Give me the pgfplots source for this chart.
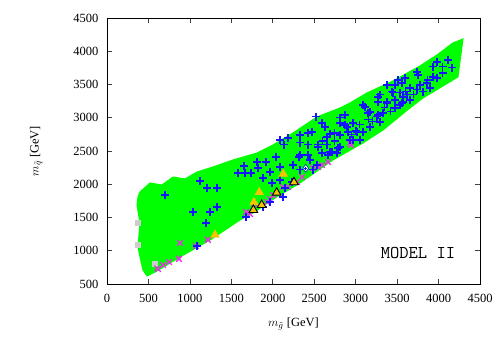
\documentclass[border=0pt]{standalone}
\usepackage{fontspec}
\setmainfont{Liberation Serif}
\usepackage{pgfplots}
\pgfplotsset{compat=1.18}
\definecolor{ptgreen}{RGB}{0,255,0}
\definecolor{ptblue}{RGB}{20,20,255}
\definecolor{ptmag}{RGB}{240,40,240}
\definecolor{ptgold}{RGB}{245,195,0}
\definecolor{ptgray}{RGB}{205,205,205}

\begin{document}
\begin{tikzpicture}
\begin{axis}[
  scale only axis, width=373pt, height=266pt,
  xmin=0, xmax=4500, ymin=500, ymax=4500,
  xtick={0,500,...,4500}, ytick={500,1000,...,4500},
  tick align=inside, major tick length=5pt,
  tick style={black!75, line width=0.6pt},
  axis line style={line width=0.8pt},
  /pgf/number format/assume math mode=true,
  /pgf/number format/1000 sep={},
  ticklabel style={font=\fontsize{12.5}{12.5}\selectfont},
  xticklabel style={yshift=-7pt},
  yticklabel style={xshift=-5pt},
  label style={font=\fontsize{12.5}{12.5}\selectfont},
  xlabel={$m_{\tilde{g}}$ [GeV]}, ylabel={$m_{\tilde{q}}$ [GeV]},
  xlabel style={at={(axis description cs:0.5,-0.16)}, anchor=base},
  ylabel style={at={(axis description cs:-0.19,0.5)}, anchor=center},
]
% gray points behind
\addplot[only marks, mark=square*, mark size=2.5pt, color=ptgray] coordinates {
(365,1087)(575,800)(375,1420)};
% allowed region (green)
\addplot[fill=ptgreen, draw=ptgreen, line width=1pt] coordinates {
(374,1808)(398,1884)(519,2019)(664,1989)(796,2109)(941,2079)(1086,2184)
(1279,2260)(1520,2365)(1810,2470)(2003,2591)(2244,2771)(2533,3012)
(2811,3147)(2932,3222)(3137,3373)(3450,3553)(3776,3779)(3981,3944)
(4174,4125)(4295,4185)(4234,3613)(3812,3297)(3655,3147)(3330,2816)
(3088,2621)(2726,2365)(2328,2019)(2027,1793)(1761,1568)(1605,1463)
(1243,1162)(881,906)(603,696)(483,620)(434,711)(398,906)(374,1057)
(398,1417)(362,1688)} -- cycle;
% gray crosses
\addplot[only marks, mark=x, mark size=3.5pt, color=gray, line width=0.9pt] coordinates {
(600,740)(860,890)(1210,1175)};
% magenta crosses
\addplot[only marks, mark=x, mark size=4pt, color=ptmag, line width=1.3pt] coordinates {
(615,726)(676,786)(748,831)(869,876)(881,1117)(1074,1072)(1218,1162)
(1677,1583)(1725,1553)(1773,1643)(1930,1733)(1966,1778)(2003,1839)
(2123,1959)(2184,1959)(2292,2034)(2352,2109)(2485,2245)(2545,2260)
(2594,2290)(2666,2335)(2944,2591)(2932,2621)};
% blue pluses
\addplot[only marks, mark=+, mark size=3.7pt, color=ptblue, line width=1.1pt] coordinates {
(700,1838)(1122,2049)(1206,1944)(1327,1944)(1037,1583)(1243,1583)(1327,1658)
(1194,1417)(1086,1072)(1677,1508)(1580,2169)(1653,2275)(1665,2169)(1737,2169)
(1810,2335)(1822,2245)(1918,2335)(2039,2410)(1966,2184)(1882,2094)(2087,2260)
(2135,2591)(2184,2696)(2244,2290)(2316,2410)(1991,2019)(2087,2064)(2232,2034)
(2147,1944)(2123,1808)(1966,1733)(1882,1658)(2328,2741)(2425,2771)(2328,2440)
(2425,2591)(2545,2591)(2666,2440)(2533,2290)(2485,2215)(2328,2215)(2449,2365)
(2594,2921)(2630,2861)(2654,2711)(2545,2560)(2594,2470)(2654,2591)(2714,2485)
(2787,2545)(2811,2741)(2895,2861)(2871,3042)(2968,2921)(3016,2786)(3112,3162)
(3149,3072)(3257,3012)(3293,2936)(3330,3072)(3378,3222)(3269,3312)(3450,3373)
(3559,3222)(3571,3312)(3088,2786)(3052,2666)(2932,2666)(2750,2771)(2811,2921)
(2425,2440)(2811,2997)(2871,2891)(2907,2786)(2968,2666)(2811,2560)(2690,2485)
(2775,2470)(3173,3087)(3269,3042)(3474,3147)(3655,3267)(3173,2861)(3981,3839)
(4114,3869)(4053,3764)(4162,3749)(3933,3764)(4053,3673)(3933,3613)(3872,3568)
(3981,3598)(3740,3688)(3752,3643)(3860,3523)(3776,3493)(3897,3448)(3812,3388)
(3595,3598)(3511,3568)(3559,3523)(3474,3493)(3655,3448)(3740,3418)(3378,3493)
(3438,3388)(3535,3373)(3619,3343)(3293,3343)(3474,3267)(3571,3237)(3378,3237)
(3535,3192)(3088,3192)(3269,3237)(3004,2801)(2690,2756)(2473,2786)(2521,3012)
(2087,2666)(2328,2621)(3200,2950)(3420,3100)(3050,2900)(2950,2750)(3350,3150)
(3700,3350)(3600,3400)(2600,2650)(2750,2650)(3150,2980)};
% yellow triangles without edge
\addplot[only marks, mark=triangle*, mark size=5pt, color=ptgold] coordinates {
(1303,1237)(1837,1879)(1773,1729)(2127,2154)};
% yellow triangles with black edge
\addplot[only marks, mark=triangle*, mark size=5pt, draw=black, fill=ptgold, line width=0.9pt] coordinates {
(1766,1613)(1866,1688)(2047,1873)(2256,2030)};
% white diamond
\addplot[only marks, mark=diamond*, mark size=4pt, draw=teal!70!blue, fill=white, line width=0.8pt] coordinates {
(2397,2240)};
\addplot[only marks, mark=+, mark size=1.5pt, color=ptblue] coordinates {(2397,2240)};
\node[font=\ttfamily\fontsize{18}{18}\selectfont] at (axis cs:3752,966) {MODEL II};
\end{axis}
\path (current axis.south west) ++(-107pt,-68pt) rectangle ++(504pt,352pt);
\end{tikzpicture}
\end{document}
